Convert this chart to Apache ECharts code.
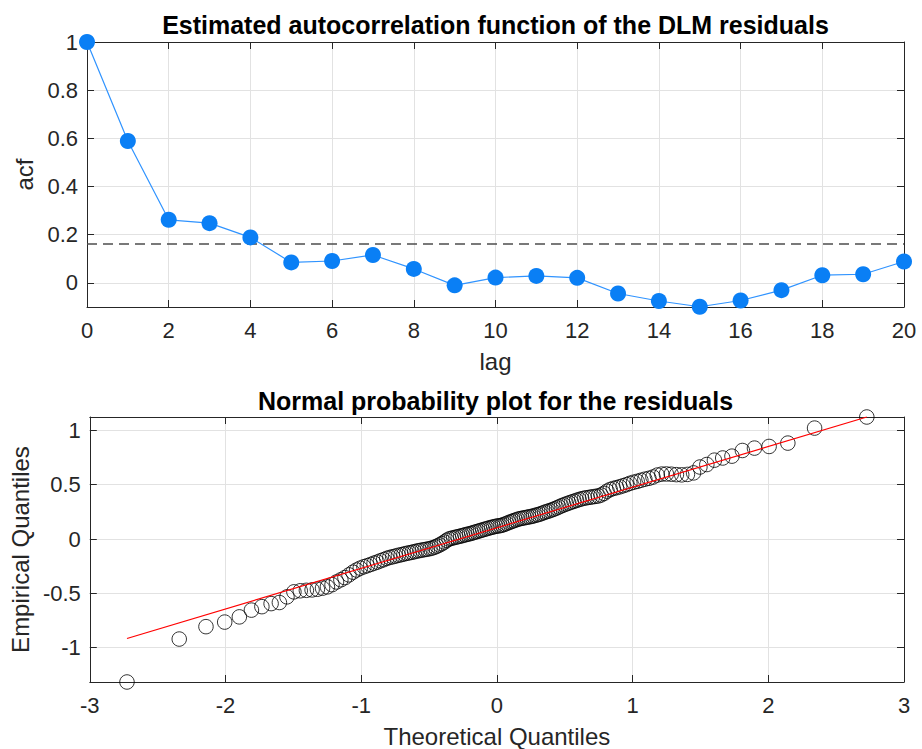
<!DOCTYPE html>
<html>
<head>
<meta charset="utf-8">
<script src="https://cdn.jsdelivr.net/npm/echarts@6/dist/echarts.min.js"></script>
<style>
html,body{margin:0;padding:0;background:#fff;}
#chart{width:922px;height:749px;}
</style>
</head>
<body>
<div id="chart"></div>
<script>
// ---------- Data ----------
const titleTop = 'Estimated autocorrelation function of the DLM residuals';
const titleBottom = 'Normal probability plot for the residuals';

const lags = [0,1,2,3,4,5,6,7,8,9,10,11,12,13,14,15,16,17,18,19,20];
const acfValues = [1.000,0.589,0.262,0.248,0.189,0.085,0.091,0.116,0.058,-0.010,0.022,0.029,0.021,-0.044,-0.075,-0.099,-0.073,-0.030,0.032,0.036,0.089];
const confBandX = [0, 20];
const confBandY = [0.161, 0.161];

const theoreticalQ = [-2.726,-2.341,-2.144,-2.006,-1.898,-1.809,-1.732,-1.664,-1.603,-1.547,-1.496,-1.449,-1.404,-1.362,-1.323,-1.285,-1.249,-1.215,-1.182,-1.150,-1.120,-1.090,-1.061,-1.034,-1.007,-0.980,-0.955,-0.930,-0.905,-0.881,-0.858,-0.835,-0.812,-0.790,-0.768,-0.747,-0.726,-0.705,-0.685,-0.665,-0.645,-0.625,-0.606,-0.587,-0.568,-0.549,-0.530,-0.512,-0.493,-0.475,-0.457,-0.440,-0.422,-0.405,-0.387,-0.370,-0.353,-0.336,-0.319,-0.302,-0.285,-0.268,-0.252,-0.235,-0.219,-0.202,-0.186,-0.170,-0.153,-0.137,-0.121,-0.105,-0.089,-0.072,-0.056,-0.040,-0.024,-0.008,
0.008,0.024,0.040,0.056,0.072,0.089,0.105,0.121,0.137,0.153,0.170,0.186,0.202,0.219,0.235,0.252,0.268,0.285,0.302,0.319,0.336,0.353,0.370,0.387,0.405,0.422,0.440,0.457,0.475,0.493,0.512,0.530,0.549,0.568,0.587,0.606,0.625,0.645,0.665,0.685,0.705,0.726,0.747,0.768,0.790,0.812,0.835,0.858,0.881,0.905,0.930,0.955,0.980,1.007,1.034,1.061,1.090,1.120,1.150,1.182,1.215,1.249,1.285,1.323,1.362,1.404,1.449,1.496,1.547,1.603,1.664,1.732,1.809,1.898,2.006,2.144,2.341,2.726];
const empiricalQ = [-1.315,-0.920,-0.806,-0.764,-0.716,-0.654,-0.622,-0.594,-0.584,-0.532,-0.486,-0.476,-0.472,-0.468,-0.462,-0.452,-0.440,-0.420,-0.395,-0.375,-0.355,-0.330,-0.305,-0.285,-0.268,-0.255,-0.245,-0.234,-0.222,-0.212,-0.200,-0.190,-0.178,-0.170,-0.163,-0.157,-0.150,-0.144,-0.138,-0.132,-0.127,-0.122,-0.116,-0.110,-0.106,-0.101,-0.097,-0.093,-0.088,-0.082,-0.074,-0.065,-0.054,-0.042,-0.028,-0.012,0.000,0.006,0.012,0.017,0.022,0.027,0.032,0.038,0.043,0.048,0.053,0.060,0.066,0.072,0.078,0.084,0.090,0.096,0.102,0.107,0.112,0.117,
0.120,0.123,0.128,0.135,0.143,0.152,0.160,0.167,0.174,0.181,0.187,0.191,0.195,0.199,0.203,0.207,0.212,0.218,0.224,0.230,0.238,0.246,0.253,0.260,0.268,0.276,0.285,0.295,0.305,0.314,0.323,0.331,0.339,0.347,0.355,0.363,0.370,0.376,0.380,0.384,0.388,0.392,0.396,0.405,0.420,0.440,0.455,0.465,0.472,0.480,0.490,0.500,0.512,0.522,0.530,0.540,0.550,0.558,0.570,0.588,0.597,0.598,0.596,0.592,0.590,0.594,0.608,0.662,0.685,0.725,0.745,0.762,0.814,0.836,0.851,0.882,1.020,1.122];
const refLineX = [-2.726, 2.726];
const refLineY = [-0.915, 1.122];

const topXTicks = {min: 0, max: 20, interval: 2};
const topYRange = {min: -0.1, max: 1};
const botXTicks = {min: -3, max: 3, interval: 1};
const botYRange = {min: -1.315, max: 1.122};

// ---------- Styling ----------
const FONT = 'Liberation Sans, Arial, Helvetica, sans-serif';
const AX = '#262626';
const GRIDC = '#e2e2e2';

function pairs(xs, ys){ return xs.map((x,i)=>[x, ys[i]]); }

function mainX(grid, r, name){
  return {
    type:'value', gridIndex:grid, min:r.min, max:r.max, interval:r.interval, position:'bottom',
    name:name, nameLocation:'middle', nameGap:42,
    nameTextStyle:{fontFamily:FONT, fontSize:24, color:AX},
    axisLine:{show:true, onZero:false, lineStyle:{color:AX, width:1}},
    axisTick:{show:true, inside:true, length:7, lineStyle:{color:AX}},
    axisLabel:{show:true, margin:12, fontFamily:FONT, fontSize:22, color:AX},
    splitLine:{show:true, lineStyle:{color:GRIDC, width:1}}
  };
}
function boxX(grid, r){
  return {
    type:'value', gridIndex:grid, min:r.min, max:r.max, interval:r.interval, position:'top',
    axisLine:{show:true, onZero:false, lineStyle:{color:AX, width:1}},
    axisTick:{show:true, inside:true, length:7, lineStyle:{color:AX}},
    axisLabel:{show:false}, splitLine:{show:false}
  };
}
function mainY(grid, r, name, gap){
  return {
    type:'value', gridIndex:grid, min:r.min, max:r.max, splitNumber:5, position:'left',
    name:name, nameLocation:'middle', nameGap:gap,
    nameTextStyle:{fontFamily:FONT, fontSize:24, color:AX},
    axisLine:{show:true, onZero:false, lineStyle:{color:AX, width:1}},
    axisTick:{show:true, inside:true, length:7, lineStyle:{color:AX}},
    axisLabel:{show:true, margin:9, fontFamily:FONT, fontSize:22, color:AX, showMinLabel:false, showMaxLabel: r.max===1},
    splitLine:{show:true, lineStyle:{color:GRIDC, width:1}}
  };
}
function boxY(grid, r){
  return {
    type:'value', gridIndex:grid, min:r.min, max:r.max, splitNumber:5, position:'right',
    axisLine:{show:true, onZero:false, lineStyle:{color:AX, width:1}},
    axisTick:{show:true, inside:true, length:7, lineStyle:{color:AX}},
    axisLabel:{show:false}, splitLine:{show:false}
  };
}

const chart = echarts.init(document.getElementById('chart'), null, {renderer:'svg'});
chart.setOption({
  backgroundColor:'#ffffff',
  animation:false,
  graphic:[
    {type:'text', x:495.5, y:25, style:{text:titleTop, fontFamily:FONT, fontSize:25, fontWeight:'bold', fill:'#000', align:'center', verticalAlign:'middle'}},
    {type:'text', x:495.5, y:401, style:{text:titleBottom, fontFamily:FONT, fontSize:25, fontWeight:'bold', fill:'#000', align:'center', verticalAlign:'middle'}}
  ],
  grid:[
    {left:87, top:42, width:817, height:265, containLabel:false},
    {left:87, top:417, width:817, height:265, containLabel:false}
  ],
  xAxis:[ mainX(0, topXTicks, 'lag'), boxX(0, topXTicks), mainX(1, botXTicks, 'Theoretical Quantiles'), boxX(1, botXTicks) ],
  yAxis:[ mainY(0, topYRange, 'acf', 47), boxY(0, topYRange), mainY(1, botYRange, 'Empirical Quantiles', 53), boxY(1, botYRange) ],
  series:[
    {type:'line', xAxisIndex:0, yAxisIndex:0, data:pairs(confBandX, confBandY), symbol:'none', silent:true,
     lineStyle:{color:'#4d4d4d', width:1.5, type:[10,6]}, z:3},
    {type:'line', xAxisIndex:0, yAxisIndex:0, data:pairs(lags, acfValues), clip:false,
     symbol:'circle', symbolSize:16, itemStyle:{color:'#0a7ff5'},
     lineStyle:{color:'#2f93ff', width:1.2}, z:4},
    {type:'scatter', xAxisIndex:2, yAxisIndex:2, data:pairs(theoreticalQ, empiricalQ), clip:false,
     symbol:'circle', symbolSize:14.5,
     itemStyle:{color:'rgba(0,0,0,0)', borderColor:'#000', borderWidth:1}, z:3},
    {type:'line', xAxisIndex:2, yAxisIndex:2, data:pairs(refLineX, refLineY), symbol:'none', clip:false,
     lineStyle:{color:'#ff0000', width:1.2}, z:5}
  ]
});
</script>
</body>
</html>
